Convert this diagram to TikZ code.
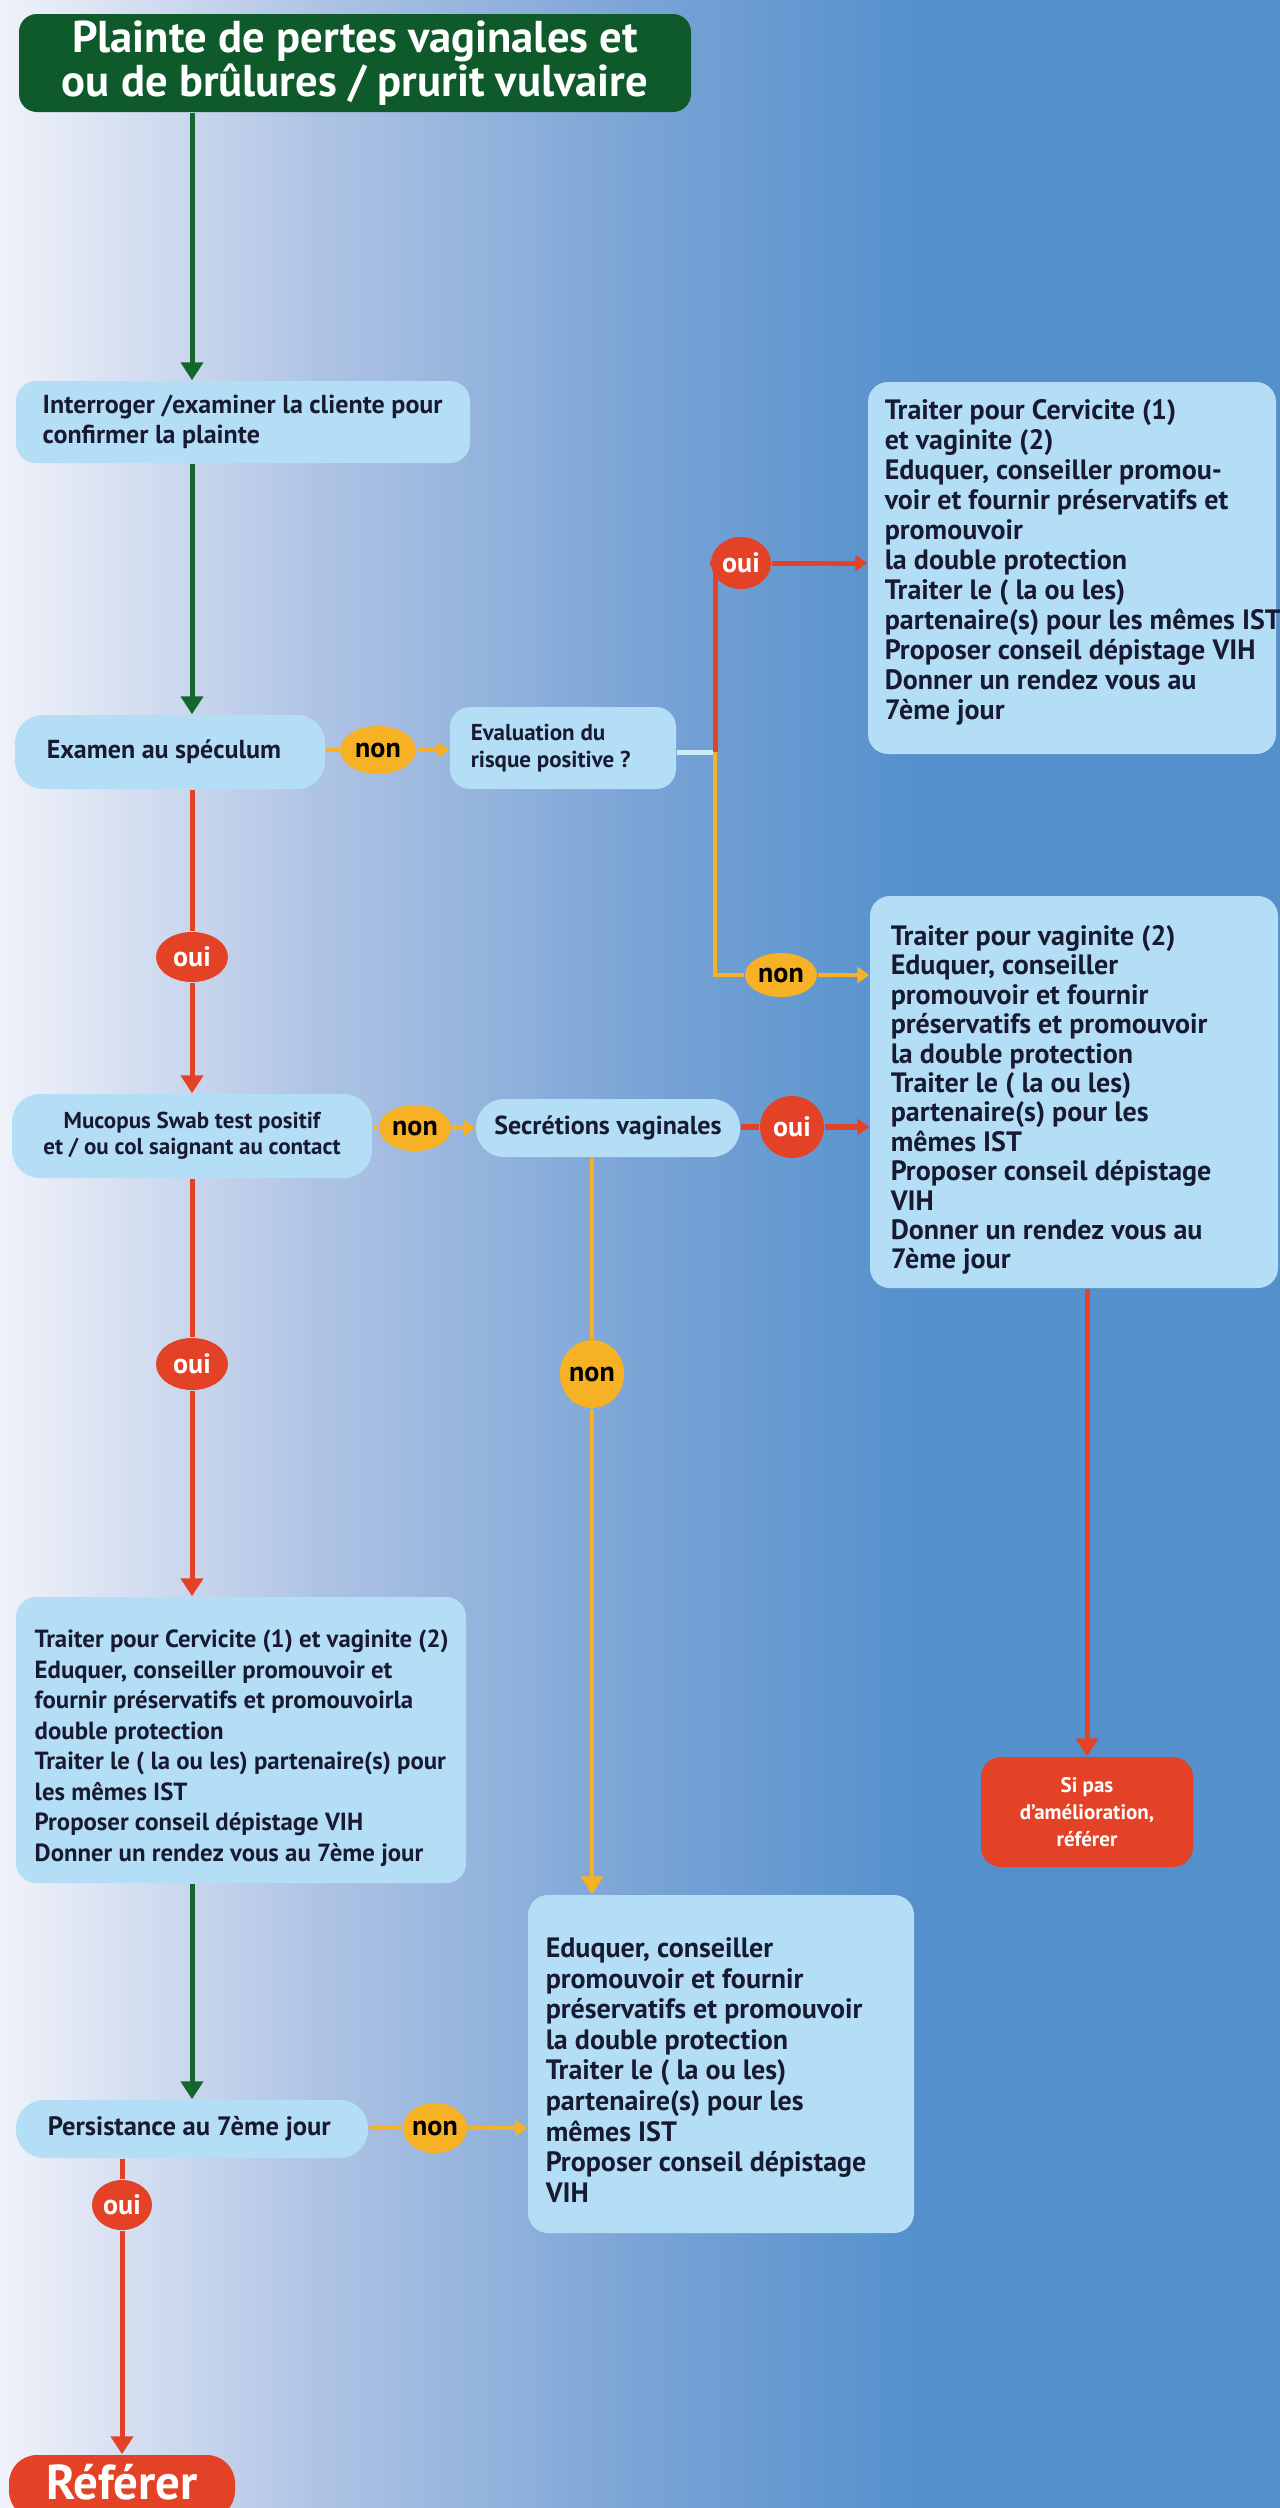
\documentclass[tikz,border=0pt]{standalone}
\usepackage{fontspec}
\setmainfont{PT Sans}
\usetikzlibrary{arrows.meta,shapes.geometric}

\definecolor{vertTitre}{RGB}{14,90,42}
\definecolor{vertFleche}{RGB}{20,102,46}
\definecolor{rougeFleche}{RGB}{228,66,38}
\definecolor{jauneFleche}{RGB}{246,178,36}
\definecolor{bleuBoite}{RGB}{180,222,245}
\definecolor{bleuLien}{RGB}{205,234,250}
\definecolor{texteBoite}{RGB}{24,26,50}
\definecolor{fond0}{RGB}{240,242,250}
\definecolor{fond1}{RGB}{174,195,228}
\definecolor{fond2}{RGB}{122,164,214}
\definecolor{fond3}{RGB}{84,144,204}

\pgfdeclarehorizontalshading{fondbleu}{100bp}{color(0bp)=(fond0); color(25bp)=(fond0); color(37.5bp)=(fond1); color(50bp)=(fond2); color(61bp)=(fond3); color(100bp)=(fond3)}

\tikzset{every picture/.style={line width=0.75pt}}
\tikzset{
	boite/.style={fill=bleuBoite, rounded corners=10pt, inner sep=0pt},
	pilule/.style={boite, rounded corners=14pt},
	texte/.style={text=texteBoite, align=left, inner sep=0pt, anchor=west},
	titre/.style={fill=vertTitre, rounded corners=9pt, text=white, align=center, inner sep=0pt,
		font=\bfseries\fontsize{22.3}{20.5}\selectfont},
	alerte/.style={fill=rougeFleche, rounded corners=10pt, text=white, align=center, inner sep=0pt},
	oui/.style={ellipse, fill=rougeFleche, text=white, inner sep=0pt, font=\bfseries\fontsize{14}{14}\selectfont},
	non/.style={ellipse, fill=jauneFleche, text=black, inner sep=0pt, font=\bfseries\fontsize{14}{14}\selectfont},
	grand/.style={font=\bfseries\fontsize{14}{15}\selectfont},
	moyen/.style={font=\bfseries\fontsize{13}{15}\selectfont},
	petit/.style={font=\bfseries\fontsize{11.5}{13}\selectfont},
	vert/.style={draw=vertFleche, line width=2.5pt},
	rouge/.style={draw=rougeFleche, line width=2.5pt},
	jaune/.style={draw=jauneFleche, line width=2.2pt},
	grandbout/.style={-{Triangle[length=9pt,width=11pt]}},
	petitbout/.style={-{Triangle[length=6pt,width=8pt]}}
}

\begin{document}
\begin{tikzpicture}[x=0.5pt,y=0.5pt,yscale=-1,xscale=1]
	\useasboundingbox (0,0) rectangle (1280,2508);
	\clip (0,0) rectangle (1280,2508);
	%Shape: Background
	\shade[shading=fondbleu] (0,0) rectangle (1280,2508);
	\coordinate (axe) at (192,0);
	\coordinate (branche) at (715,752);

	% Title
	\node[titre, minimum width=336pt, minimum height=49pt] (plainte) at (355,63) {Plainte de pertes vaginales et\\ou de brûlures / prurit vulvaire};

	%Shape: Rounded Rect
	\node[boite, minimum width=227pt, minimum height=41pt] (interroger) at (243,422) {};
	% Text Node
	\node[texte, moyen] (tInterroger) at (42,422) {Interroger /examiner la cliente pour\\confirmer la plainte};

	%Shape: Rounded Rect
	\node[pilule, minimum width=155pt, minimum height=37pt] (examen) at (170,752) {};
	% Text Node
	\node[texte, moyen] (tExamen) at (46,752) {Examen au spéculum};
	\node[non, minimum width=38pt, minimum height=24pt] (non1) at (378,750) {non};

	%Shape: Rounded Rect
	\node[boite, minimum width=113pt, minimum height=41pt] (evaluation) at (563,748) {};
	% Text Node
	\node[texte, font=\bfseries\fontsize{11.5}{13.5}\selectfont] (tEvaluation) at (470,748) {Evaluation du\\risque positive ?};
	\node[oui, minimum width=30pt, minimum height=26pt] (oui1) at (741,563) {oui};

	%Shape: Rounded Rect
	\node[boite, minimum width=204pt, minimum height=186pt] (traiterCV) at (1072,568) {};
	% Text Node
	\node[texte, grand] (tTraiterCV) at (884,562) {Traiter pour Cervicite (1)\\et vaginite (2)\\Eduquer, conseiller promou-\\voir et fournir préservatifs et\\promouvoir\\la double protection\\Traiter le ( la ou les)\\partenaire(s) pour les mêmes IST\\Proposer conseil dépistage VIH\\Donner un rendez vous au\\7ème jour};
	\node[non, minimum width=36pt, minimum height=22pt] (non2) at (781,975) {non};

	%Shape: Rounded Rect
	\node[boite, minimum width=204pt, minimum height=196pt] (traiterV) at (1074,1092) {};
	% Text Node
	\node[texte, grand, font=\bfseries\fontsize{14}{14.7}\selectfont] (tTraiterV) at (890,1100) {Traiter pour vaginite (2)\\Eduquer, conseiller\\promouvoir et fournir\\préservatifs et promouvoir\\la double protection\\Traiter le ( la ou les)\\partenaire(s) pour les\\mêmes IST\\Proposer conseil dépistage\\VIH\\Donner un rendez vous au\\7ème jour};
	\node[oui, minimum width=36pt, minimum height=25pt] (oui2) at (192,957) {oui};

	% Text Node
	\node[pilule, petit, align=center, text=texteBoite, minimum width=180pt, minimum height=42pt] (mucopus) at (192,1136) {Mucopus Swab test positif\\et / ou col saignant au contact};
	\node[non, minimum width=36pt, minimum height=23pt] (non3) at (415,1128) {non};
	% Text Node
	\node[pilule, moyen, text=texteBoite, minimum width=132pt, minimum height=29pt] (secretions) at (608,1128) {Secrétions vaginales};
	\node[oui, minimum width=32pt, minimum height=31pt] (oui3) at (792,1127) {oui};
	\node[non, minimum width=30pt, minimum height=34pt] (non4) at (592,1374) {non};
	\node[oui, minimum width=36pt, minimum height=26pt] (oui4) at (192,1364) {oui};

	%Shape: Rounded Rect
	\node[boite, minimum width=225pt, minimum height=143pt] (cervicite) at (241,1740) {};
	% Text Node
	\node[texte, font=\bfseries\fontsize{12.4}{15.25}\selectfont] (tCervicite) at (34,1748) {Traiter pour Cervicite (1) et vaginite (2)\\Eduquer, conseiller promouvoir et\\fournir préservatifs et promouvoirla\\double protection\\Traiter le ( la ou les) partenaire(s) pour\\les mêmes IST\\Proposer conseil dépistage VIH\\Donner un rendez vous au 7ème jour};

	% Text Node
	\node[alerte, font=\bfseries\fontsize{10.5}{13.5}\selectfont, minimum width=106pt, minimum height=55pt] (sipas) at (1087,1812) {Si pas\\d'amélioration,\\référer};

	%Shape: Rounded Rect
	\node[boite, minimum width=193pt, minimum height=169pt] (eduquer) at (721,2064) {};
	% Text Node
	\node[texte, font=\bfseries\fontsize{14}{15.3}\selectfont] (tEduquer) at (545,2070) {Eduquer, conseiller\\promouvoir et fournir\\préservatifs et promouvoir\\la double protection\\Traiter le ( la ou les)\\partenaire(s) pour les\\mêmes IST\\Proposer conseil dépistage\\VIH};

	%Shape: Rounded Rect
	\node[pilule, minimum width=176pt, minimum height=29pt] (persistance) at (192,2129) {};
	% Text Node
	\node[texte, font=\bfseries\fontsize{13.3}{15}\selectfont] (tPersistance) at (47,2129) {Persistance au 7ème jour};
	\node[non, minimum width=32pt, minimum height=25pt] (non5) at (435,2128) {non};
	\node[oui, minimum width=30pt, minimum height=25pt] (oui5) at (122,2205) {oui};

	%Shape: Rounded Rect
	\node[alerte, rounded corners=14pt, minimum width=113pt, minimum height=32pt] (referer) at (122,2487) {};
	% Text Node
	\node[anchor=base, text=white, inner sep=0pt, font=\bfseries\fontsize{24.5}{24.5}\selectfont] (tReferer) at (122,2499) {Référer};

	%Straight Lines
	\draw[vert, grandbout] (plainte.south -| axe) -- (interroger.north -| axe);
	\draw[vert, grandbout] (interroger.south -| axe) -- (examen.north -| axe);
	\draw[jaune] (examen.east |- non1) -- (non1);
	\draw[jaune, petitbout] (non1) -- (non1 -| evaluation.west);
	\draw[draw=bleuLien, line width=2.5pt] (evaluation.east |- branche) -- (branche);
	\draw[rouge] (branche) |- (oui1);
	\draw[rouge, petitbout] (oui1) -- (oui1 -| traiterCV.west);
	\draw[jaune] (branche) |- (non2);
	\draw[jaune, petitbout] (non2) -- (non2 -| traiterV.west);
	\draw[rouge] (examen.south -| axe) -- (oui2);
	\draw[rouge, grandbout] (oui2) -- (mucopus.north);
	\draw[jaune] (mucopus.east |- non3) -- (non3);
	\draw[jaune, petitbout] (non3) -- (non3 -| secretions.west);
	\draw[rouge, line width=3pt] (secretions.east |- oui3) -- (oui3);
	\draw[rouge, line width=3pt, petitbout] (oui3) -- (oui3 -| traiterV.west);
	\draw[jaune] (secretions.south -| non4) -- (non4);
	\draw[jaune, grandbout] (non4) -- (non4 |- eduquer.north);
	\draw[rouge] (mucopus.south) -- (oui4);
	\draw[rouge, grandbout] (oui4) -- (oui4 |- cervicite.north);
	\draw[rouge, grandbout] (traiterV.south -| sipas) -- (sipas.north);
	\draw[vert, grandbout] (cervicite.south -| axe) -- (persistance.north);
	\draw[jaune] (persistance.east |- non5) -- (non5);
	\draw[jaune, petitbout] (non5) -- (non5 -| eduquer.west);
	\draw[rouge] (persistance.south -| oui5) -- (oui5);
	\draw[rouge, grandbout] (oui5) -- (referer.north);
\end{tikzpicture}
\end{document}
